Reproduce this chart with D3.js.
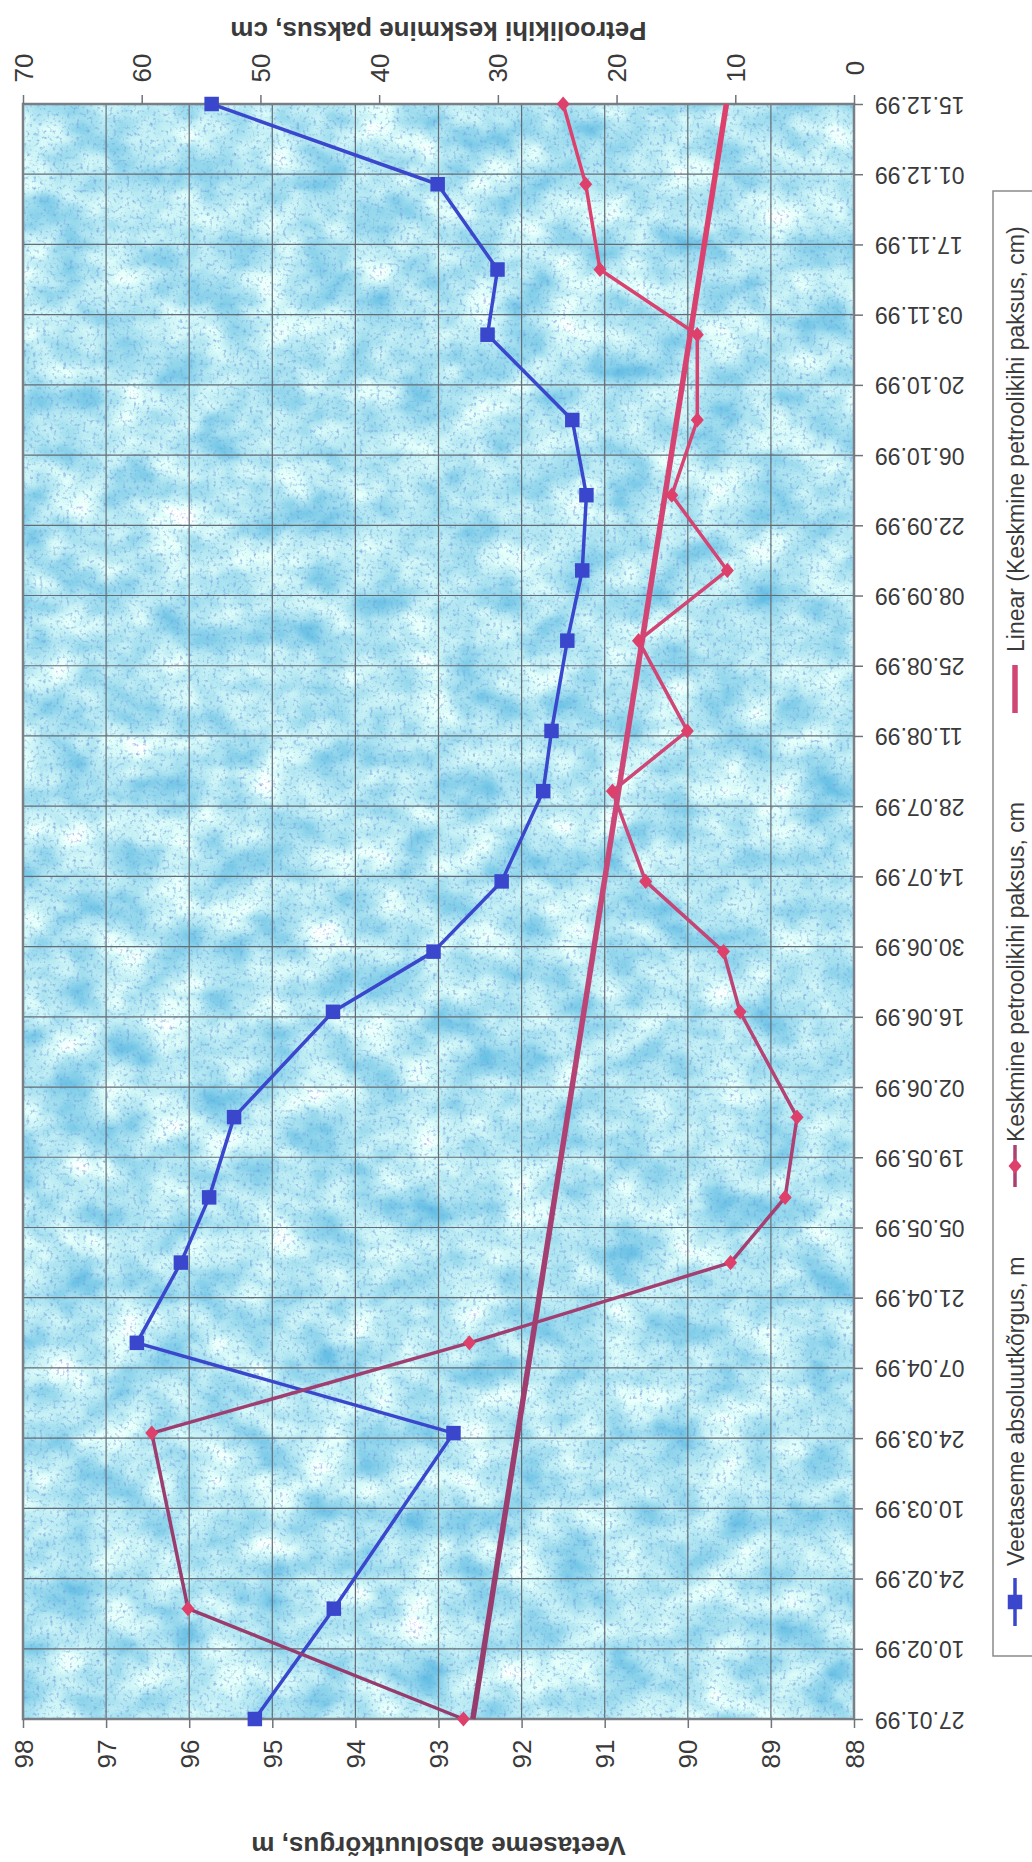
<!DOCTYPE html>
<html>
<head>
<meta charset="utf-8">
<script src="https://cdn.jsdelivr.net/npm/d3@7"></script>
<style>
  html, body { margin: 0; padding: 0; background: #ffffff; }
  svg { display: block; }
  text { font-family: "Liberation Sans", Arial, sans-serif; fill: #3a3a3a; }
</style>
</head>
<body>
<svg id="chart" width="1032" height="1862"></svg>
<script>
// Measurement dates (dd.mm.yy)
const measureDates = ["27.01.99","18.02.99","25.03.99","12.04.99","28.04.99","11.05.99","27.05.99",
  "17.06.99","29.06.99","13.07.99","31.07.99","12.08.99","30.08.99","13.09.99","28.09.99",
  "13.10.99","30.10.99","12.11.99","29.11.99","15.12.99"];

// Veetaseme absoluutkõrgus, m
const waterLevel = [95.21, 94.26, 92.82, 96.63, 96.10, 95.76, 95.46, 94.27, 93.06, 92.24,
  91.74, 91.64, 91.45, 91.27, 91.22, 91.39, 92.41, 92.29, 93.01, 95.73];

// Keskmine petroolikihi paksus, cm
const oilThickness = [32.9, 56.1, 59.15, 32.4, 10.4, 5.8, 4.8, 9.6, 11.0, 17.55,
  20.35, 14.04, 18.15, 10.67, 15.35, 13.2, 13.2, 21.4, 22.6, 24.5];

// Axis tick labels
const dateTicks = ["27.01.99","10.02.99","24.02.99","10.03.99","24.03.99","07.04.99","21.04.99",
  "05.05.99","19.05.99","02.06.99","16.06.99","30.06.99","14.07.99","28.07.99","11.08.99",
  "25.08.99","08.09.99","22.09.99","06.10.99","20.10.99","03.11.99","17.11.99","01.12.99","15.12.99"];
const levelTicks = [88, 89, 90, 91, 92, 93, 94, 95, 96, 97, 98];
const thicknessTicks = [0, 10, 20, 30, 40, 50, 60, 70];

const legendLabels = ["Veetaseme absoluutkõrgus, m", "Keskmine petroolikihi paksus, cm",
  "Linear (Keskmine petroolikihi paksus, cm)"];
const levelTitle = "Veetaseme absoluutkõrgus, m";
const thicknessTitle = "Petroolikihi keskmine paksus, cm";

const parse = d3.utcParse("%d.%m.%y");
const fmt = d3.utcFormat("%d.%m.%y");

const rows = measureDates.map((d, i) => ({ date: parse(d), level: waterLevel[i], oil: oilThickness[i] }));
const tickDates = dateTicks.map(parse);

// The chart is laid out turned a quarter turn: time runs upward, values run leftward.
const plot = { left: 23, right: 854, top: 104, bottom: 1719 };

const y = d3.scaleUtc().domain([tickDates[0], tickDates[tickDates.length - 1]]).range([plot.bottom, plot.top]);
const xLevel = d3.scaleLinear().domain([88, 98]).range([plot.right, plot.left]);
const xOil = d3.scaleLinear().domain([0, 70]).range([plot.right, plot.left]);

const svg = d3.select("#chart");
const defs = svg.append("defs");

// Mottled light-cyan paper texture for the plot area
const f = defs.append("filter").attr("id", "paper")
  .attr("x", 0).attr("y", 0).attr("width", 1).attr("height", 1)
  .attr("color-interpolation-filters", "sRGB");
f.append("feTurbulence").attr("type", "fractalNoise").attr("baseFrequency", "0.02 0.026")
  .attr("numOctaves", 3).attr("seed", 7).attr("result", "blot");
f.append("feColorMatrix").attr("in", "blot").attr("type", "matrix")
  .attr("values", "0.8 0 0 0 0.31  0.4 0 0 0 0.71  0.14 0 0 0 0.88  0 0 0 0 1").attr("result", "base");
f.append("feTurbulence").attr("type", "fractalNoise").attr("baseFrequency", "0.3")
  .attr("numOctaves", 2).attr("seed", 3).attr("result", "grain");
f.append("feColorMatrix").attr("in", "grain").attr("type", "matrix")
  .attr("values", "0 0 0 0 0.47  0 0 0 0 0.63  0 0 0 0 0.87  -2.4 0 0 0 1.1").attr("result", "dots");
f.append("feComposite").attr("in", "dots").attr("in2", "base").attr("operator", "over").attr("result", "tex");
f.append("feComposite").attr("in", "tex").attr("in2", "SourceGraphic").attr("operator", "in");

// Oil-thickness colour shifts from rose at the top to plum at the bottom
const grad = defs.append("linearGradient").attr("id", "oilColor")
  .attr("gradientUnits", "userSpaceOnUse")
  .attr("x1", 0).attr("y1", plot.top).attr("x2", 0).attr("y2", plot.bottom);
grad.append("stop").attr("offset", "0%").attr("stop-color", "#de406c");
grad.append("stop").attr("offset", "45%").attr("stop-color", "#cc4878");
grad.append("stop").attr("offset", "70%").attr("stop-color", "#a43f71");
grad.append("stop").attr("offset", "100%").attr("stop-color", "#953c6d");

const blue = "#3a47cc";

// Plot background
svg.append("rect")
  .attr("x", plot.left).attr("y", plot.top)
  .attr("width", plot.right - plot.left).attr("height", plot.bottom - plot.top)
  .attr("fill", "#a8dcf0").attr("filter", "url(#paper)");

// Grid
const grid = svg.append("g").attr("stroke", "#646d76").attr("stroke-width", 1.2);
grid.selectAll("line.v").data(levelTicks).join("line").attr("class", "v")
  .attr("x1", d => xLevel(d)).attr("x2", d => xLevel(d))
  .attr("y1", plot.top).attr("y2", plot.bottom);
grid.selectAll("line.h").data(tickDates).join("line").attr("class", "h")
  .attr("y1", d => y(d)).attr("y2", d => y(d))
  .attr("x1", plot.left).attr("x2", plot.right);

// Frame
svg.append("rect")
  .attr("x", plot.left).attr("y", plot.top)
  .attr("width", plot.right - plot.left).attr("height", plot.bottom - plot.top)
  .attr("fill", "none").attr("stroke", "#7a7f85").attr("stroke-width", 2.5);

// Axes
function styleAxis(g) {
  g.select(".domain").remove();
  g.selectAll(".tick line").attr("stroke", "#6f747a").attr("stroke-width", 1.5);
  g.selectAll(".tick text").attr("fill", "#3a3a3a");
}

// Date axis on the right, labels upside down
svg.append("g").attr("transform", `translate(${plot.right},0)`)
  .call(d3.axisRight(y).tickValues(tickDates).tickFormat(fmt).tickSize(9))
  .call(styleAxis)
  .call(g => g.selectAll(".tick text")
    .attr("x", null).attr("dy", null)
    .attr("text-anchor", "end").attr("dominant-baseline", "central")
    .attr("font-size", 23)
    .attr("transform", "translate(21,0) rotate(180)"));

// Water level axis along the bottom
svg.append("g").attr("transform", `translate(0,${plot.bottom})`)
  .call(d3.axisBottom(xLevel).tickValues(levelTicks).tickFormat(d3.format("d")).tickSize(9))
  .call(styleAxis)
  .call(g => g.selectAll(".tick text")
    .attr("y", null).attr("dy", null)
    .attr("text-anchor", "middle").attr("dominant-baseline", "central")
    .attr("font-size", 26)
    .attr("transform", "translate(0,35) rotate(-90)"));

// Oil thickness axis along the top
svg.append("g").attr("transform", `translate(0,${plot.top})`)
  .call(d3.axisTop(xOil).tickValues(thicknessTicks).tickFormat(d3.format("d")).tickSize(9))
  .call(styleAxis)
  .call(g => g.selectAll(".tick text")
    .attr("y", null).attr("dy", null)
    .attr("text-anchor", "middle").attr("dominant-baseline", "central")
    .attr("font-size", 26)
    .attr("transform", "translate(0,-36) rotate(-90)"));

// Axis titles
const cx = (plot.left + plot.right) / 2;
svg.append("text").text(thicknessTitle)
  .attr("transform", `translate(${cx},31) rotate(180)`)
  .attr("text-anchor", "middle").attr("dominant-baseline", "central")
  .attr("font-size", 26).attr("font-weight", "bold");
svg.append("text").text(levelTitle)
  .attr("transform", `translate(${cx},1846) rotate(180)`)
  .attr("text-anchor", "middle").attr("dominant-baseline", "central")
  .attr("font-size", 26).attr("font-weight", "bold");

// Linear trend of the oil thickness (least squares over time)
const t0 = rows[0].date.getTime();
const xs = rows.map(r => (r.date.getTime() - t0) / 864e5);
const ys = rows.map(r => r.oil);
const mx = d3.mean(xs), my = d3.mean(ys);
const slope = d3.sum(xs, (x, i) => (x - mx) * (ys[i] - my)) / d3.sum(xs, x => (x - mx) ** 2);
const icpt = my - slope * mx;
const trend = [rows[0].date, rows[rows.length - 1].date].map(d => {
  const t = (d.getTime() - t0) / 864e5;
  return { date: d, oil: icpt + slope * t };
});

const lineLevel = d3.line().x(d => xLevel(d.level)).y(d => y(d.date));
const lineOil = d3.line().x(d => xOil(d.oil)).y(d => y(d.date));

svg.append("path").datum(trend).attr("d", lineOil)
  .attr("fill", "none").attr("stroke", "url(#oilColor)").attr("stroke-width", 5.5);

svg.append("path").datum(rows).attr("d", lineLevel)
  .attr("fill", "none").attr("stroke", blue).attr("stroke-width", 3.5).attr("stroke-linejoin", "round");

svg.append("path").datum(rows).attr("d", lineOil)
  .attr("fill", "none").attr("stroke", "url(#oilColor)").attr("stroke-width", 3.5).attr("stroke-linejoin", "round");

// Marker shapes
const squareSym = d3.symbol().type(d3.symbolSquare).size(210);
const diamondType = { draw(ctx, size) { const r = Math.sqrt(size) / 2; ctx.moveTo(0, -r * 1.05); ctx.lineTo(r * 0.9, 0); ctx.lineTo(0, r * 1.05); ctx.lineTo(-r * 0.9, 0); ctx.closePath(); } };
const diamondSym = d3.symbol().type(diamondType).size(210);

svg.append("g").selectAll("path").data(rows).join("path")
  .attr("d", squareSym)
  .attr("transform", d => `translate(${xLevel(d.level)},${y(d.date)})`)
  .attr("fill", blue);

svg.append("g").selectAll("path").data(rows).join("path")
  .attr("d", diamondSym)
  .attr("transform", d => `translate(${xOil(d.oil)},${y(d.date)})`)
  .attr("fill", "url(#oilColor)");

// Legend (entries stacked upward, text reading bottom to top)
const lg = svg.append("g");
lg.append("rect").attr("x", 993).attr("y", 191).attr("width", 60).attr("height", 1465)
  .attr("fill", "#ffffff").attr("stroke", "#8a8a8a").attr("stroke-width", 1.5);
const lx = 1015;
const entries = [
  { label: legendLabels[0], mid: 1602, half: 24, stroke: blue, width: 3.5, sym: squareSym, fill: blue, textAt: 1566 },
  { label: legendLabels[1], mid: 1166, half: 21, stroke: "url(#oilColor)", width: 3.5, sym: diamondSym, fill: "url(#oilColor)", textAt: 1142 },
  { label: legendLabels[2], mid: 689, half: 24, stroke: "url(#oilColor)", width: 5.5, sym: null, textAt: 652 }
];
entries.forEach(e => {
  lg.append("line").attr("x1", lx).attr("x2", lx)
    .attr("y1", e.mid - e.half).attr("y2", e.mid + e.half)
    .attr("stroke", e.stroke).attr("stroke-width", e.width);
  if (e.sym) lg.append("path").attr("d", e.sym).attr("transform", `translate(${lx},${e.mid})`).attr("fill", e.fill);
  lg.append("text").text(e.label)
    .attr("transform", `translate(${lx + 1},${e.textAt}) rotate(-90)`)
    .attr("text-anchor", "start").attr("dominant-baseline", "central")
    .attr("font-size", 23);
});
</script>
</body>
</html>
